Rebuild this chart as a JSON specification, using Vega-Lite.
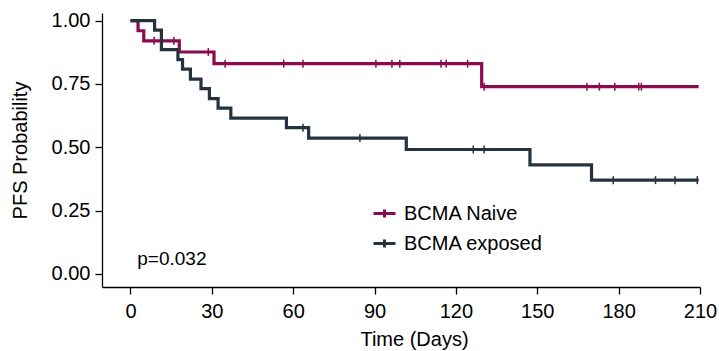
{
  "$schema": "https://vega.github.io/schema/vega-lite/v6.json",
  "width": 598,
  "height": 274,
  "autosize": {"type": "none"},
  "padding": {"left": 102, "top": 13, "right": 19, "bottom": 64},
  "background": "white",
  "config": {
    "view": {"stroke": null},
    "font": "Liberation Sans",
    "axis": {
      "grid": false,
      "domainColor": "black",
      "domainWidth": 1.3,
      "tickColor": "black",
      "tickWidth": 1.3,
      "tickSize": 7,
      "labelColor": "black",
      "labelFont": "Liberation Sans",
      "labelFontSize": 20,
      "titleFont": "Liberation Sans",
      "titleFontSize": 20,
      "titleFontWeight": "normal",
      "titleColor": "black"
    }
  },
  "datasets": {
    "curve": [
      {"group": "BCMA Naive", "time": 0, "surv": 1.0},
      {"group": "BCMA Naive", "time": 2.8, "surv": 0.96},
      {"group": "BCMA Naive", "time": 4.9, "surv": 0.92},
      {"group": "BCMA Naive", "time": 18, "surv": 0.876},
      {"group": "BCMA Naive", "time": 30.8, "surv": 0.83},
      {"group": "BCMA Naive", "time": 129.5, "surv": 0.739},
      {"group": "BCMA Naive", "time": 209.5, "surv": 0.739},
      {"group": "BCMA exposed", "time": 0, "surv": 1.0},
      {"group": "BCMA exposed", "time": 8.9, "surv": 0.962},
      {"group": "BCMA exposed", "time": 11.4, "surv": 0.885},
      {"group": "BCMA exposed", "time": 17.5, "surv": 0.846},
      {"group": "BCMA exposed", "time": 19.2, "surv": 0.808},
      {"group": "BCMA exposed", "time": 22.1, "surv": 0.769},
      {"group": "BCMA exposed", "time": 26, "surv": 0.731},
      {"group": "BCMA exposed", "time": 29.1, "surv": 0.692},
      {"group": "BCMA exposed", "time": 32.3, "surv": 0.654},
      {"group": "BCMA exposed", "time": 37, "surv": 0.615},
      {"group": "BCMA exposed", "time": 57.5, "surv": 0.577},
      {"group": "BCMA exposed", "time": 65.7, "surv": 0.536},
      {"group": "BCMA exposed", "time": 101.7, "surv": 0.491},
      {"group": "BCMA exposed", "time": 147.3, "surv": 0.43},
      {"group": "BCMA exposed", "time": 170, "surv": 0.37},
      {"group": "BCMA exposed", "time": 209.5, "surv": 0.37}
    ],
    "censor": [
      {"group": "BCMA Naive", "time": 8.7, "surv": 0.92},
      {"group": "BCMA Naive", "time": 16, "surv": 0.92},
      {"group": "BCMA Naive", "time": 28.7, "surv": 0.876},
      {"group": "BCMA Naive", "time": 34.9, "surv": 0.83},
      {"group": "BCMA Naive", "time": 56.5, "surv": 0.83},
      {"group": "BCMA Naive", "time": 63.6, "surv": 0.83},
      {"group": "BCMA Naive", "time": 90.5, "surv": 0.83},
      {"group": "BCMA Naive", "time": 96.4, "surv": 0.83},
      {"group": "BCMA Naive", "time": 99.3, "surv": 0.83},
      {"group": "BCMA Naive", "time": 114.5, "surv": 0.83},
      {"group": "BCMA Naive", "time": 116.4, "surv": 0.83},
      {"group": "BCMA Naive", "time": 124.3, "surv": 0.83},
      {"group": "BCMA Naive", "time": 130.4, "surv": 0.739},
      {"group": "BCMA Naive", "time": 168.3, "surv": 0.739},
      {"group": "BCMA Naive", "time": 172.9, "surv": 0.739},
      {"group": "BCMA Naive", "time": 178.6, "surv": 0.739},
      {"group": "BCMA Naive", "time": 187.4, "surv": 0.739},
      {"group": "BCMA Naive", "time": 188.4, "surv": 0.739},
      {"group": "BCMA exposed", "time": 63.6, "surv": 0.577},
      {"group": "BCMA exposed", "time": 84.6, "surv": 0.536},
      {"group": "BCMA exposed", "time": 126.4, "surv": 0.491},
      {"group": "BCMA exposed", "time": 130.4, "surv": 0.491},
      {"group": "BCMA exposed", "time": 178, "surv": 0.37},
      {"group": "BCMA exposed", "time": 193.6, "surv": 0.37},
      {"group": "BCMA exposed", "time": 200.8, "surv": 0.37},
      {"group": "BCMA exposed", "time": 209, "surv": 0.37}
    ],
    "note": [{"label": "p=0.032"}]
  },
  "layer": [
    {
      "data": {"name": "curve"},
      "mark": {"type": "line", "interpolate": "step-after", "strokeWidth": 3.2, "strokeJoin": "miter", "clip": false},
      "encoding": {
        "x": {
          "field": "time", "type": "quantitative",
          "scale": {"domain": [-10.5, 210], "nice": false, "zero": false},
          "axis": {
            "values": [0, 30, 60, 90, 120, 150, 180, 210],
            "title": "Time (Days)",
            "labelPadding": 7,
            "titleX": 312,
            "titleY": 58,
            "titleAlign": "center",
            "titleBaseline": "alphabetic",
            "labelFlush": false
          }
        },
        "y": {
          "field": "surv", "type": "quantitative",
          "scale": {"domain": [-0.052, 1.03], "nice": false, "zero": false},
          "axis": {
            "values": [0, 0.25, 0.5, 0.75, 1],
            "format": ".2f",
            "title": "PFS Probability",
            "labelPadding": 5,
            "titleX": -76,
            "titleY": 137,
            "titleAlign": "center",
            "titleBaseline": "alphabetic",
            "titleAngle": -90,
            "labelFlush": false
          }
        },
        "color": {
          "field": "group", "type": "nominal",
          "scale": {"domain": ["BCMA Naive", "BCMA exposed"], "range": ["#8B0A50", "#24333F"]},
          "legend": {
            "title": null,
            "orient": "none",
            "legendX": 270,
            "legendY": 188,
            "symbolType": "M-1,0H1M0,-0.36V0.36",
            "symbolSize": 484,
            "symbolStrokeWidth": 3,
            "labelFont": "Liberation Sans",
            "labelFontSize": 20,
            "labelColor": "black",
            "labelOffset": 7,
            "rowPadding": 7
          }
        }
      }
    },
    {
      "data": {"name": "censor"},
      "mark": {"type": "point", "shape": "M0,-1V1", "size": 64, "strokeWidth": 1.5, "filled": false, "opacity": 1},
      "encoding": {
        "x": {"field": "time", "type": "quantitative"},
        "y": {"field": "surv", "type": "quantitative"},
        "color": {"field": "group", "type": "nominal", "legend": null}
      }
    },
    {
      "data": {"name": "note"},
      "mark": {"type": "text", "align": "left", "baseline": "alphabetic", "fontSize": 19, "font": "Liberation Sans", "color": "black"},
      "encoding": {
        "x": {"datum": 2.5, "type": "quantitative"},
        "y": {"datum": 0.033, "type": "quantitative"},
        "text": {"field": "label", "type": "nominal"}
      }
    }
  ]
}
